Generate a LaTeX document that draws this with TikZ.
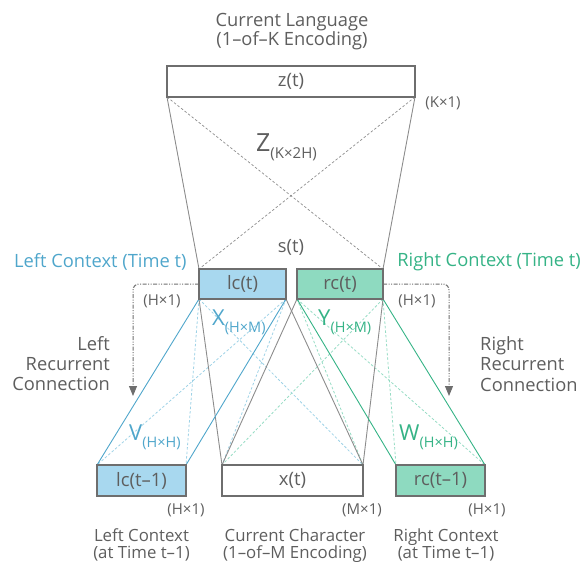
\documentclass[tikz,border=0pt]{standalone}
\usepackage{fontspec}
\setmainfont{Open Sans}
\usetikzlibrary{arrows.meta,backgrounds}
\definecolor{txt}{HTML}{5E5E5E}
\definecolor{bluet}{HTML}{4FA6CB}
\definecolor{greent}{HTML}{35B386}
\definecolor{bluefill}{HTML}{A8D8EF}
\definecolor{greenfill}{HTML}{8EDAC0}
\definecolor{boxline}{HTML}{6E6E6E}
\definecolor{graylink}{HTML}{8C8C8C}
\definecolor{bluedash}{HTML}{9ED2E6}
\definecolor{greendash}{HTML}{96DCC4}
\newcommand{\fs}[1]{\fontsize{#1}{#1}\selectfont}
\begin{document}
\begin{tikzpicture}[x=1pt,y=-1pt,
  box/.style={draw=boxline, line width=1.6pt, inner sep=0pt, outer sep=0pt,
    minimum height=31pt, text=txt, font=\fs{18.5}},
  lbl/.style={text=txt, inner sep=0pt, font=\fs{18.3}},
  small/.style={text=txt, inner sep=0pt, font=\fs{15}},
  glink/.style={draw=graylink, line width=0.9pt},
  gdash/.style={draw=graylink, line width=0.7pt, dash pattern=on 2.5pt off 2pt},
  blink/.style={draw=bluet, line width=0.9pt},
  bdash/.style={draw=bluedash, line width=0.8pt, dash pattern=on 2.5pt off 2pt},
  grlink/.style={draw=greent, line width=0.9pt},
  grdash/.style={draw=greendash, line width=0.8pt, dash pattern=on 2.5pt off 2pt},
  recur/.style={draw=boxline, line width=1pt, rounded corners=6pt,
    dash pattern=on 4pt off 1.5pt on 1pt off 1.5pt on 1pt off 1.5pt,
    -{Triangle[width=8pt,length=10pt]}}
]
\useasboundingbox (0,0) rectangle (584,562);

% boxes
\node[box, minimum width=248pt] (z) at (291,81.5) {z(t)};
\node[box, fill=bluefill, minimum width=87pt, minimum height=30pt] (lc) at (242.5,284) {lc(t)};
\node[box, fill=greenfill, minimum width=86pt, minimum height=30pt] (rc) at (340,284) {rc(t)};
\node[box, fill=bluefill, minimum width=89pt] (lcm) at (141.5,480.5) {lc(t–1)};
\node[box, fill=white, minimum width=141pt] (x) at (292.5,480.5) {x(t)};
\node[box, fill=greenfill, minimum width=89pt] (rcm) at (440.5,480.5) {rc(t–1)};

\begin{scope}[on background layer]
  % Z layer
  \draw[glink] (z.south west) -- (lc.north west);
  \draw[glink] (z.south east) -- (rc.north east);
  \draw[gdash] (z.south west) -- (rc.north east);
  \draw[gdash] (z.south east) -- (lc.north west);
  % dashed light lines
  \draw[bdash] (lc.south west) -- (lcm.north east);
  \draw[bdash] (lc.south east) -- (lcm.north west);
  \draw[bdash] (lc.south west) -- (x.north east);
  \draw[bdash] (lc.south east) -- (x.north west);
  \draw[grdash] (rc.south west) -- (rcm.north east);
  \draw[grdash] (rc.south east) -- (rcm.north west);
  \draw[grdash] (rc.south west) -- (x.north east);
  \draw[grdash] (rc.south east) -- (x.north west);
  % solid
  \draw[glink] (lc.south west) -- (x.north west);
  \draw[glink] (lc.south east) -- (x.north east);
  \draw[glink] (rc.south west) -- (x.north west);
  \draw[glink] (rc.south east) -- (x.north east);
  \draw[blink] (lc.south west) -- (lcm.north west);
  \draw[blink] (lc.south east) -- (lcm.north east);
  \draw[grlink] (rc.south west) -- (rcm.north west);
  \draw[grlink] (rc.south east) -- (rcm.north east);
\end{scope}

% recurrent arrows
\coordinate (la) at (133,396);
\coordinate (ra) at (449,396);
\draw[recur] (lc.west) -| (la);
\draw[recur] (rc.east) -| (ra);

% titles
\node[lbl] (t1) at (292,22) {Current Language};
\node[lbl] (t2) at (292,41) {(1–of–K Encoding)};
\node[small] (k1) at (443,103) {(K×1)};
\node[lbl] (st) at (291,247) {s(t)};
\node[lbl, text=bluet, anchor=west] (lct) at (14,262) {Left Context (Time t)};
\node[lbl, text=greent, anchor=east] (rct) at (581,262) {Right Context (Time t)};
\node[small] (h1) at (162,301) {(H×1)};
\node[small] (h2) at (417,301) {(H×1)};
\node[lbl, align=right, anchor=east, font=\fontsize{18.3}{20}\selectfont] (lrc) at (110,364) {Left\\Recurrent\\Connection};
\node[lbl, align=left, anchor=west, font=\fontsize{18.3}{20.5}\selectfont] (rrc) at (480,364) {Right\\Recurrent\\Connection};

% weight labels
\node[anchor=base west, inner sep=0pt, text=txt] (zl) at (256,151) {\fs{25}Z\raisebox{-7.5pt}{\fs{15}(K×2H)}};
\node[anchor=base west, inner sep=0pt, text=bluet] (xl) at (212,325) {\fs{22}X\raisebox{-7pt}{\fs{14.5}(H×M)}};
\node[anchor=base west, inner sep=0pt, text=greent] (yl) at (318,325) {\fs{22}Y\raisebox{-7pt}{\fs{14.5}(H×M)}};
\node[anchor=base west, inner sep=0pt, text=bluet] (vl) at (129,440) {\fs{22}V\raisebox{-7pt}{\fs{14.5}(H×H)}};
\node[anchor=base west, inner sep=0pt, text=greent] (wl) at (399,440) {\fs{22}W\raisebox{-7pt}{\fs{14.5}(H×H)}};

% bottom labels
\node[small] (b1) at (186,510) {(H×1)};
\node[small] (b2) at (362,510) {(M×1)};
\node[small] (b3) at (487,510) {(H×1)};
\node[lbl, font=\fs{16.8}, anchor=base] (c1) at (141.5,541) {Left Context};
\node[lbl, font=\fs{16.8}, anchor=base] (c2) at (141.5,558) {(at Time t–1)};
\node[lbl, font=\fs{16.8}, anchor=base] (c3) at (295,541) {Current Character};
\node[lbl, font=\fs{16.8}, anchor=base] (c4) at (295,558) {(1–of–M Encoding)};
\node[lbl, font=\fs{16.8}, anchor=base] (c5) at (446,541) {Right Context};
\node[lbl, font=\fs{16.8}, anchor=base] (c6) at (446,558) {(at Time t–1)};
\end{tikzpicture}
\end{document}
